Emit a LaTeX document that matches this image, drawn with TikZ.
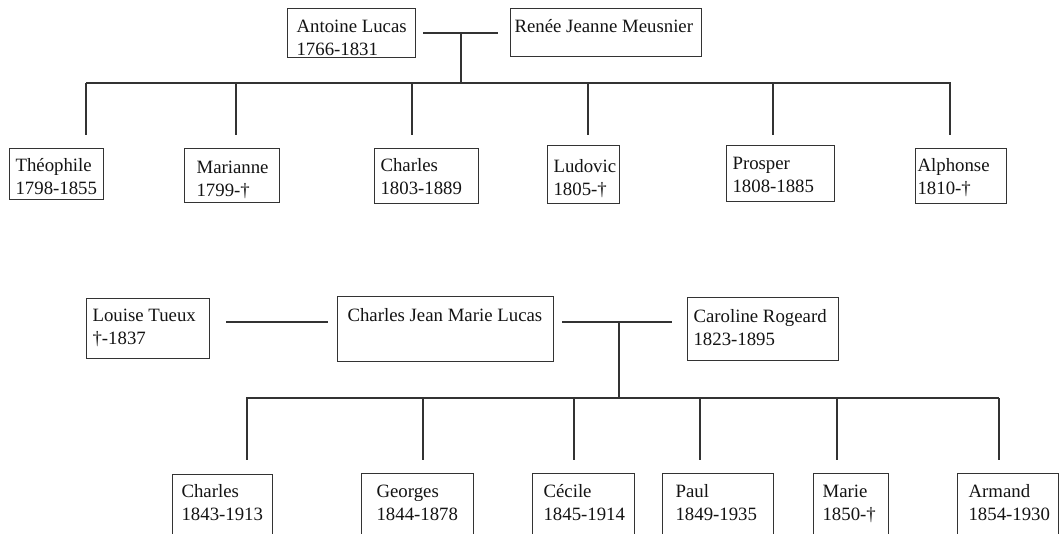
\documentclass[tikz,border=0pt]{standalone}
\usepackage{fontspec}
\setmainfont{Liberation Serif}
\definecolor{linec}{HTML}{333333}
\definecolor{textc}{HTML}{141414}
\tikzset{
  person/.style={draw=linec, line width=1.1pt, inner sep=0pt, anchor=north west, text=textc},
  link/.style={draw=linec, line width=1.1pt}
}
% name, x1, y1, x2, y2, left inset, first baseline, line 1, line 2
\newcommand{\famnode}[9]{%
  \node[person] (#1) at (#2,#3) {\parbox[t][\dimexpr #5pt-#3pt\relax][t]{\dimexpr #4pt-#2pt\relax}{%
    \fontsize{18.8}{23}\selectfont\rule{0pt}{#7pt}\hspace*{#6pt}\mbox{#8}\\\hspace*{#6pt}\mbox{#9}}};}
\begin{document}
\begin{tikzpicture}[x=1pt,y=-1pt]
\useasboundingbox[fill=white] (0,0) rectangle (1064,533);
% generation 1
\famnode{antoine}{287}{8}{415}{57}{9}{24}{Antoine Lucas}{1766-1831}
\famnode{renee}{510}{8}{701}{56}{4}{24}{Renée Jeanne Meusnier}{}
% children
\famnode{theophile}{9}{148}{103}{199}{6}{23}{Théophile}{1798-1855}
\famnode{marianne}{184}{148}{279}{202}{12}{24.5}{Marianne}{1799-†}
\famnode{charlesA}{374}{148}{478}{203}{6}{23}{Charles}{1803-1889}
\famnode{ludovic}{547}{145}{619}{203}{6}{26.5}{Ludovic}{1805-†}
\famnode{prosper}{726}{145}{834}{201}{6}{23.5}{Prosper}{1808-1885}
\famnode{alphonse}{915}{148}{1006}{203}{2}{23}{Alphonse}{1810-†}
% generation 2
\famnode{louise}{86}{298}{209}{358}{6}{23}{Louise Tueux}{†-1837}
\famnode{cjml}{337}{296}{553}{361}{10}{24.5}{Charles Jean Marie Lucas}{}
\famnode{caroline}{687}{297}{838}{360}{6}{25}{Caroline Rogeard}{1823-1895}
% grandchildren
\famnode{charlesB}{172}{474}{272}{570}{9}{23}{Charles}{1843-1913}
\famnode{georges}{361}{473}{473}{570}{15}{23.5}{Georges}{1844-1878}
\famnode{cecile}{532}{473}{634}{570}{11}{23.5}{Cécile}{1845-1914}
\famnode{paul}{662}{473}{773}{570}{13}{23.5}{Paul}{1849-1935}
\famnode{marie}{813}{473}{888}{570}{9}{23.5}{Marie}{1850-†}
\famnode{armand}{957}{473}{1058}{570}{11}{23.5}{Armand}{1854-1930}

% couple 1 connectors
\coordinate (mA1) at (423,33);
\coordinate (mA2) at (498,33);
\coordinate (jA) at (461,33);
\coordinate (barA) at (461,83);
\coordinate (barAl) at (86,83);
\coordinate (barAr) at (951,83);
\draw[link] (mA1) -- (mA2);
\draw[link] (jA) -- (barA);
\draw[link] (barAl) -- (barAr);
\foreach \cx/\nm in {86/theophile,236/marianne,412/charlesA,588/ludovic,773/prosper,950/alphonse}{
  \coordinate (c-\nm) at (\cx,135);
  \draw[link] (c-\nm |- barA) -- (c-\nm);
}
% couple 2 connectors
\coordinate (mB1) at (226,322);
\coordinate (mB2) at (328,322);
\coordinate (mC1) at (562,322);
\coordinate (mC2) at (672,322);
\coordinate (jB) at (619,322);
\coordinate (barB) at (619,398);
\coordinate (barBl) at (246,398);
\coordinate (barBr) at (999,398);
\draw[link] (mB1) -- (mB2);
\draw[link] (mC1) -- (mC2);
\draw[link] (jB) -- (barB);
\draw[link] (barBl) -- (barBr);
\foreach \cx/\nm in {247/charlesB,423/georges,574/cecile,700/paul,837/marie,999/armand}{
  \coordinate (g-\nm) at (\cx,460);
  \draw[link] (g-\nm |- barB) -- (g-\nm);
}
\end{tikzpicture}
\end{document}
